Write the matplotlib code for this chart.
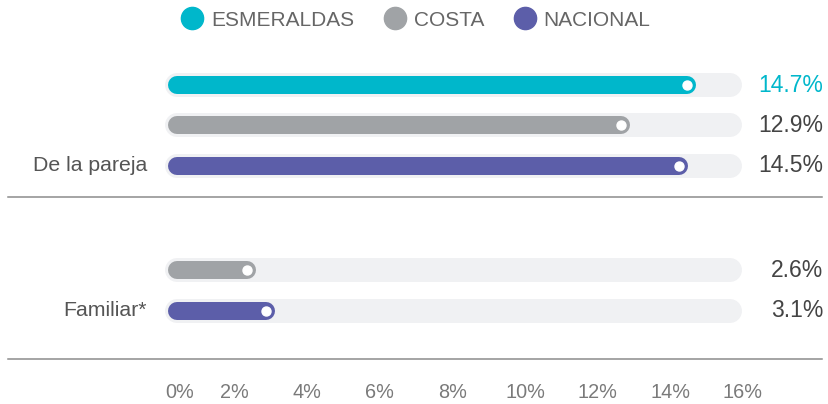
import matplotlib
matplotlib.use("Agg")
import matplotlib.pyplot as plt
from matplotlib.lines import Line2D
from matplotlib.transforms import blended_transform_factory

plt.rcParams['font.family'] = ['Liberation Sans', 'DejaVu Sans']

# Datos
series = ["ESMERALDAS", "COSTA", "NACIONAL"]
colores = ["#00b7cb", "#a0a3a6", "#5c5ea9"]
categorias = ["De la pareja", "Familiar*"]
valores = {
    "De la pareja": [14.7, 12.9, 14.5],
    "Familiar*": [None, 2.6, 3.1],
}
ticks = [0, 2, 4, 6, 8, 10, 12, 14, 16]
x_max = 16

# Posiciones de filas (en unidades de fila)
filas = {
    "De la pareja": [0, 1, 2],
    "Familiar*": [None, 4.58, 5.58],
}
separadores = [2.76, 6.77]
y_ticks = 7.6

W, H, DPI = 829, 404, 100
fig = plt.figure(figsize=(W / DPI, H / DPI), dpi=DPI)
x0_px = 162
ppu = 36.3  # px por 1%
ax = fig.add_axes([x0_px / W, 0, x_max * ppu / W, 1])
ax.set_xlim(0, x_max)
ax.set_ylim(7.88, -2.1)
ax.axis('off')

px = 1 / ppu  # 1 px en unidades de datos
track_lw = 24 * 72 / DPI
bar_lw = 18 * 72 / DPI
tr = blended_transform_factory(fig.transFigure, ax.transData)

for cat in categorias:
    for i, v in enumerate(valores[cat]):
        y = filas[cat][i]
        if y is None:
            continue
        # pista de fondo
        ax.plot([15 * px, x_max - 13 * px], [y, y], color="#f0f1f3",
                lw=track_lw, solid_capstyle='round', zorder=1)
        if v is None:
            continue
        # barra
        ax.plot([15 * px, v - 9 * px], [y, y], color=colores[i],
                lw=bar_lw, solid_capstyle='round', zorder=2)
        # punto blanco
        ax.plot([v - 9 * px], [y], 'o', color='white', ms=9 * 72 / DPI, zorder=3)
        # etiqueta de valor
        ax.text(823 / W, y, f"{v}%", transform=tr, ha='right', va='center',
                fontsize=16.5, color=colores[0] if i == 0 else "#444444")
    # etiqueta de categoria
    ax.text(147 / W, filas[cat][-1], cat, transform=tr, ha='right', va='center',
            fontsize=15.3, color="#555555")

for s in separadores:
    ax.plot([8 / W, 822 / W], [s, s], transform=tr, color="#8c8c8c", lw=1.1,
            clip_on=False)

for t in ticks:
    ax.text(t + (3 * px if t == 0 else 0), y_ticks, f"{t}%", ha='left' if t == 0 else 'center',
            va='center', fontsize=14.3, color="#7a7a7a")

handles = [Line2D([], [], marker='o', ls='', color=c, ms=16) for c in colores]
fig.legend(handles, series, loc='center', bbox_to_anchor=(416 / W, 1 - 20 / H),
           ncol=3, frameon=False, fontsize=15, handlelength=1.0, handletextpad=0.4,
           columnspacing=1.45, labelcolor="#666666", borderaxespad=0, borderpad=0)

fig.savefig("out.png", dpi=DPI)
